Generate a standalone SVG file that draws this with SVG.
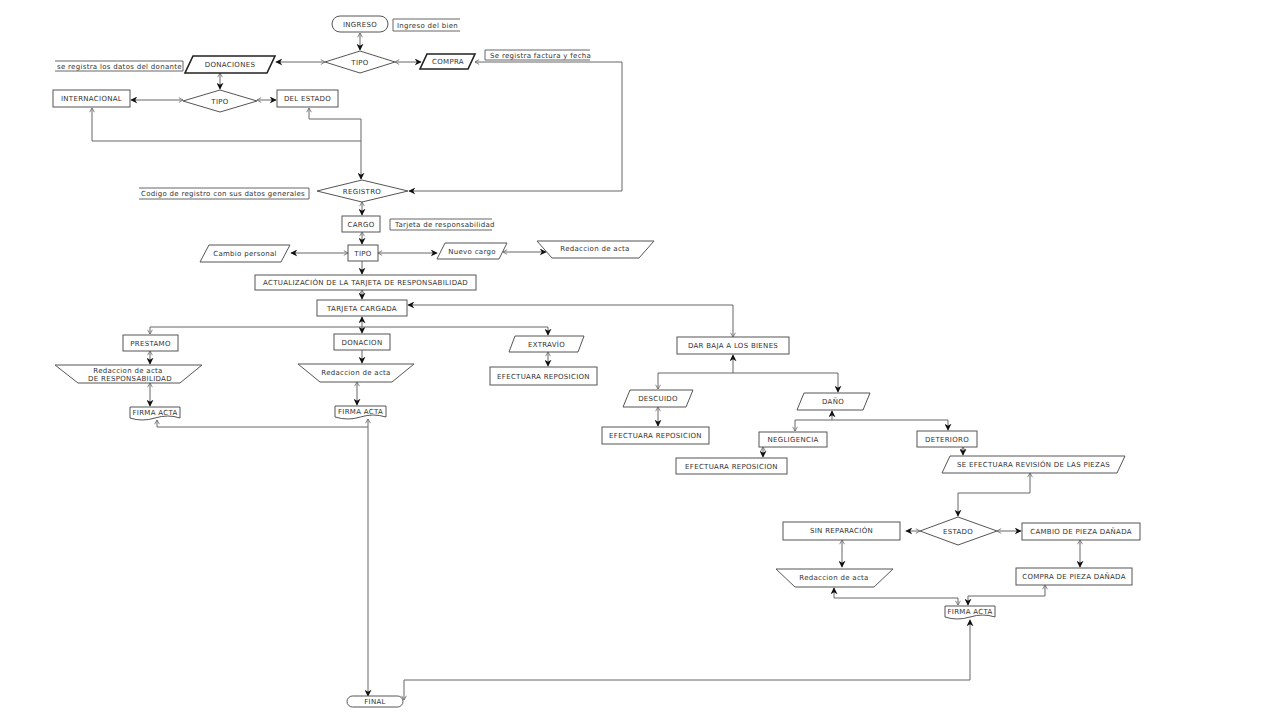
<svg xmlns="http://www.w3.org/2000/svg" width="1280" height="720" viewBox="0 0 1280 720">
<style>
.s{fill:#fff;stroke:#555;stroke-width:1}
.b{fill:#fff;stroke:#222;stroke-width:1.6}
.a{fill:none;stroke:#666;stroke-width:1}
.t{font-family:"DejaVu Sans",Verdana,sans-serif;font-size:7px;letter-spacing:0.3px;fill:#333;text-anchor:middle}
.l{font-family:"DejaVu Sans",Verdana,sans-serif;font-size:7px;letter-spacing:0.3px;fill:#333}
.c{fill:none;stroke:#666;stroke-width:1}
</style>
<defs>
<marker id="af" viewBox="0 0 10 10" refX="9" refY="5" markerWidth="7" markerHeight="7" markerUnits="userSpaceOnUse" orient="auto"><path d="M0,0 L10,5 L0,10 L3,5 z" fill="#111"/></marker>
<marker id="ao" viewBox="0 0 10 10" refX="9" refY="5" markerWidth="6" markerHeight="6" markerUnits="userSpaceOnUse" orient="auto-start-reverse"><path d="M2,1 L9,5 L2,9" fill="none" stroke="#666" stroke-width="1.3"/></marker>
</defs>
<rect width="1280" height="720" fill="#fff"/>

<g id="connectors" class="c">
<path d="M360,33 V50" marker-start="url(#ao)" marker-end="url(#af)"/>
<path d="M325,62 H276" marker-start="url(#ao)" marker-end="url(#af)"/>
<path d="M395,62 H421" marker-start="url(#ao)" marker-end="url(#af)"/>
<path d="M475,62 H622 V191 H409" marker-start="url(#ao)" marker-end="url(#af)"/>
<path d="M220,73 V89" marker-start="url(#ao)" marker-end="url(#af)"/>
<path d="M183,100 H131" marker-start="url(#ao)" marker-end="url(#af)"/>
<path d="M257,100 H276" marker-start="url(#ao)" marker-end="url(#af)"/>
<path d="M92,108 V141 H361" marker-start="url(#ao)"/>
<path d="M309,108 V119 H361 V179" marker-start="url(#ao)" marker-end="url(#af)"/>
<path d="M362,202 V215" marker-start="url(#ao)" marker-end="url(#af)"/>
<path d="M362,232 V244" marker-start="url(#ao)" marker-end="url(#af)"/>
<path d="M348,253 H291" marker-start="url(#ao)" marker-end="url(#af)"/>
<path d="M378,253 H437" marker-start="url(#ao)" marker-end="url(#af)"/>
<path d="M503,252 H546" marker-start="url(#ao)" marker-end="url(#af)"/>
<path d="M362,261 V274" marker-end="url(#af)"/>
<path d="M362,290 V299" marker-start="url(#ao)" marker-end="url(#af)"/>
<path d="M362,327 V317" marker-end="url(#af)"/>
<path d="M362,327 V333" marker-end="url(#af)"/>
<path d="M362,327 H150 V334" marker-end="url(#ao)"/>
<path d="M362,327 H548 V335" marker-end="url(#af)"/>
<path d="M733,337 V305 H408" marker-start="url(#ao)" marker-end="url(#af)"/>
<path d="M150,351 V364" marker-start="url(#ao)" marker-end="url(#af)"/>
<path d="M150,383 V406" marker-start="url(#ao)" marker-end="url(#af)"/>
<path d="M362,350 V363" marker-end="url(#af)"/>
<path d="M357,382 V405" marker-start="url(#ao)" marker-end="url(#af)"/>
<path d="M157,420 V427 H368" marker-start="url(#ao)"/>
<path d="M368,419 V696" marker-start="url(#ao)" marker-end="url(#af)"/>
<path d="M548,352 V366" marker-start="url(#ao)" marker-end="url(#af)"/>
<path d="M733,373 V355" marker-end="url(#af)"/>
<path d="M733,373 H658 V389" marker-end="url(#ao)"/>
<path d="M733,373 H838 V392" marker-end="url(#af)"/>
<path d="M658,407 V426" marker-start="url(#ao)" marker-end="url(#af)"/>
<path d="M832,420 V411" marker-end="url(#af)"/>
<path d="M832,420 H795 V431" marker-end="url(#ao)"/>
<path d="M832,420 H948 V430" marker-end="url(#af)"/>
<path d="M763,447 V457" marker-start="url(#ao)" marker-end="url(#af)"/>
<path d="M963,447 V455" marker-start="url(#ao)" marker-end="url(#af)"/>
<path d="M1030,473 V493 H958 V516" marker-start="url(#ao)" marker-end="url(#af)"/>
<path d="M920,531 H906" marker-start="url(#ao)" marker-end="url(#af)"/>
<path d="M997,531 H1021" marker-start="url(#ao)" marker-end="url(#af)"/>
<path d="M842,540 V567" marker-start="url(#ao)" marker-end="url(#af)"/>
<path d="M1080,540 V567" marker-start="url(#ao)" marker-end="url(#af)"/>
<path d="M958,605 V598 H834 V588" marker-start="url(#ao)" marker-end="url(#af)"/>
<path d="M1045,585 V596 H968 V605" marker-start="url(#ao)" marker-end="url(#af)"/>
<path d="M404,700 V680 H970 V620" marker-start="url(#ao)" marker-end="url(#af)"/>
</g>

<g id="n-ingreso"><rect class="s" x="332" y="16" width="56" height="16" rx="8"/><text class="t" x="360" y="26.5">INGRESO</text></g>
<g id="a-ingreso"><path class="a" d="M460,19 H393 V31 H460"/><text class="l" x="397" y="27.5">Ingreso del bien</text></g>
<g id="n-tipo1"><polygon class="s" points="325,62 360,51 395,62 360,73"/><text class="t" x="360" y="64.5">TIPO</text></g>
<g id="n-donaciones"><polygon class="b" points="193,56 275,56 267,73 185,73"/><text class="t" x="230" y="67">DONACIONES</text></g>
<g id="a-donante"><path class="a" d="M55,61 H183 V71 H55"/><text class="l" x="57" y="68.5">se registra los datos del donante</text></g>
<g id="n-compra"><polygon class="b" points="427,54 475,54 468,69 420,69"/><text class="t" x="448" y="64">COMPRA</text></g>
<g id="a-factura"><path class="a" d="M590,50 H485 V60 H590"/><text class="l" x="490" y="57.5">Se registra factura y fecha</text></g>
<g id="n-tipo2"><polygon class="s" points="183,101 220,90 257,101 220,112"/><text class="t" x="220" y="103.5">TIPO</text></g>
<g id="n-internacional"><rect class="s" x="53" y="90" width="77" height="17"/><text class="t" x="91.5" y="101">INTERNACIONAL</text></g>
<g id="n-delestado"><rect class="s" x="277" y="90" width="61" height="17"/><text class="t" x="307.5" y="101">DEL ESTADO</text></g>
<g id="n-registro"><polygon class="s" points="317,191 362,180 408,191 362,202"/><text class="t" x="362" y="193.5">REGISTRO</text></g>
<g id="a-codigo"><path class="a" d="M139,188 H309 V199 H139"/><text class="l" x="141" y="196">Codigo de registro con sus datos generales</text></g>
<g id="n-cargo"><rect class="s" x="342" y="216" width="38" height="16"/><text class="t" x="361" y="226.5">CARGO</text></g>
<g id="a-tarjeta"><path class="a" d="M492,219 H390 V230 H492"/><text class="l" x="395" y="227">Tarjeta de responsabilidad</text></g>
<g id="n-tipo3"><rect class="s" x="348" y="245" width="30" height="16"/><text class="t" x="363" y="255.5">TIPO</text></g>
<g id="n-cambio"><polygon class="s" points="209,245 290,245 281,262 200,262"/><text class="t" x="245" y="256">Cambio personal</text></g>
<g id="n-nuevo"><polygon class="s" points="445,243 507,243 499,259 437,259"/><text class="t" x="472" y="253.5">Nuevo cargo</text></g>
<g id="n-redaccion1"><polygon class="s" points="537,241 654,241 639,258 552,258"/><text class="t" x="595" y="251">Redaccion de acta</text></g>
<g id="n-actualizacion"><rect class="s" x="255" y="275" width="221" height="15"/><text class="t" x="365.5" y="284.8">ACTUALIZACIÓN DE LA TARJETA DE RESPONSABILIDAD</text></g>
<g id="n-tarjetacargada"><rect class="s" x="317" y="300" width="90" height="16"/><text class="t" x="362" y="310.5">TARJETA CARGADA</text></g>
<g id="n-prestamo"><rect class="s" x="123" y="335" width="55" height="16"/><text class="t" x="150.5" y="345.5">PRESTAMO</text></g>
<g id="n-donacion"><rect class="s" x="334" y="334" width="56" height="16"/><text class="t" x="362" y="344.5">DONACION</text></g>
<g id="n-extravio"><polygon class="s" points="515,336 584,336 578,352 509,352"/><text class="t" x="546.5" y="346.5">EXTRAVÍO</text></g>
<g id="n-redaccion2"><polygon class="s" points="55,365 202,365 180,383 78,383"/><text class="t" x="128" y="373">Redaccion de acta</text><text class="t" x="130" y="380.5">DE RESPONSABILIDAD</text></g>
<g id="n-redaccion3"><polygon class="s" points="298,364 414,364 392,382 320,382"/><text class="t" x="356" y="375">Redaccion de acta</text></g>
<g id="n-efectuara1"><rect class="s" x="490" y="367" width="107" height="18"/><text class="t" x="543.5" y="378.5">EFECTUARA REPOSICION</text></g>
<g id="n-firma1"><path class="s" d="M130,407 H180 V418 Q168,414 155,418 T130,418 Z"/><text class="t" x="155" y="415">FIRMA ACTA</text></g>
<g id="n-firma2"><path class="s" d="M335,406 H386 V417 Q373,413 360.5,417 T335,417 Z"/><text class="t" x="360.5" y="414">FIRMA ACTA</text></g>
<g id="n-darbaja"><rect class="s" x="677" y="337" width="112" height="17"/><text class="t" x="733" y="348">DAR BAJA A LOS BIENES</text></g>
<g id="n-descuido"><polygon class="s" points="630,390 693,390 686,407 623,407"/><text class="t" x="658" y="401">DESCUIDO</text></g>
<g id="n-efectuara2"><rect class="s" x="602" y="427" width="107" height="17"/><text class="t" x="655.5" y="438">EFECTUARA REPOSICION</text></g>
<g id="n-dano"><polygon class="s" points="804,393 870,393 863,410 797,410"/><text class="t" x="833" y="404">DAÑO</text></g>
<g id="n-negligencia"><rect class="s" x="759" y="432" width="68" height="15"/><text class="t" x="793" y="442">NEGLIGENCIA</text></g>
<g id="n-efectuara3"><rect class="s" x="676" y="458" width="111" height="16"/><text class="t" x="731.5" y="468.5">EFECTUARA REPOSICION</text></g>
<g id="n-deterioro"><rect class="s" x="917" y="431" width="60" height="16"/><text class="t" x="947" y="441.5">DETERIORO</text></g>
<g id="n-revision"><polygon class="s" points="950,456 1125,456 1117,473 942,473"/><text class="t" x="1033.5" y="467">SE EFECTUARA REVISIÓN DE LAS PIEZAS</text></g>
<g id="n-estado"><polygon class="s" points="920,531 958,517 997,531 958,545"/><text class="t" x="958" y="534">ESTADO</text></g>
<g id="n-sinreparacion"><rect class="s" x="783" y="522" width="117" height="18"/><text class="t" x="841.5" y="533">SIN REPARACIÓN</text></g>
<g id="n-cambiopieza"><rect class="s" x="1022" y="523" width="118" height="17"/><text class="t" x="1081" y="534">CAMBIO DE PIEZA DAÑADA</text></g>
<g id="n-redaccion4"><polygon class="s" points="776,569 893,569 874,587 795,587"/><text class="t" x="834" y="580">Redaccion de acta</text></g>
<g id="n-comprapieza"><rect class="s" x="1016" y="568" width="116" height="17"/><text class="t" x="1074" y="579">COMPRA DE PIEZA DAÑADA</text></g>
<g id="n-firma3"><path class="s" d="M945,606 H995 V617 Q983,613 970,617 T945,617 Z"/><text class="t" x="970" y="614">FIRMA ACTA</text></g>
<g id="n-final"><rect class="s" x="347" y="696" width="56" height="11" rx="5.5"/><text class="t" x="375" y="704">FINAL</text></g>
</svg>
